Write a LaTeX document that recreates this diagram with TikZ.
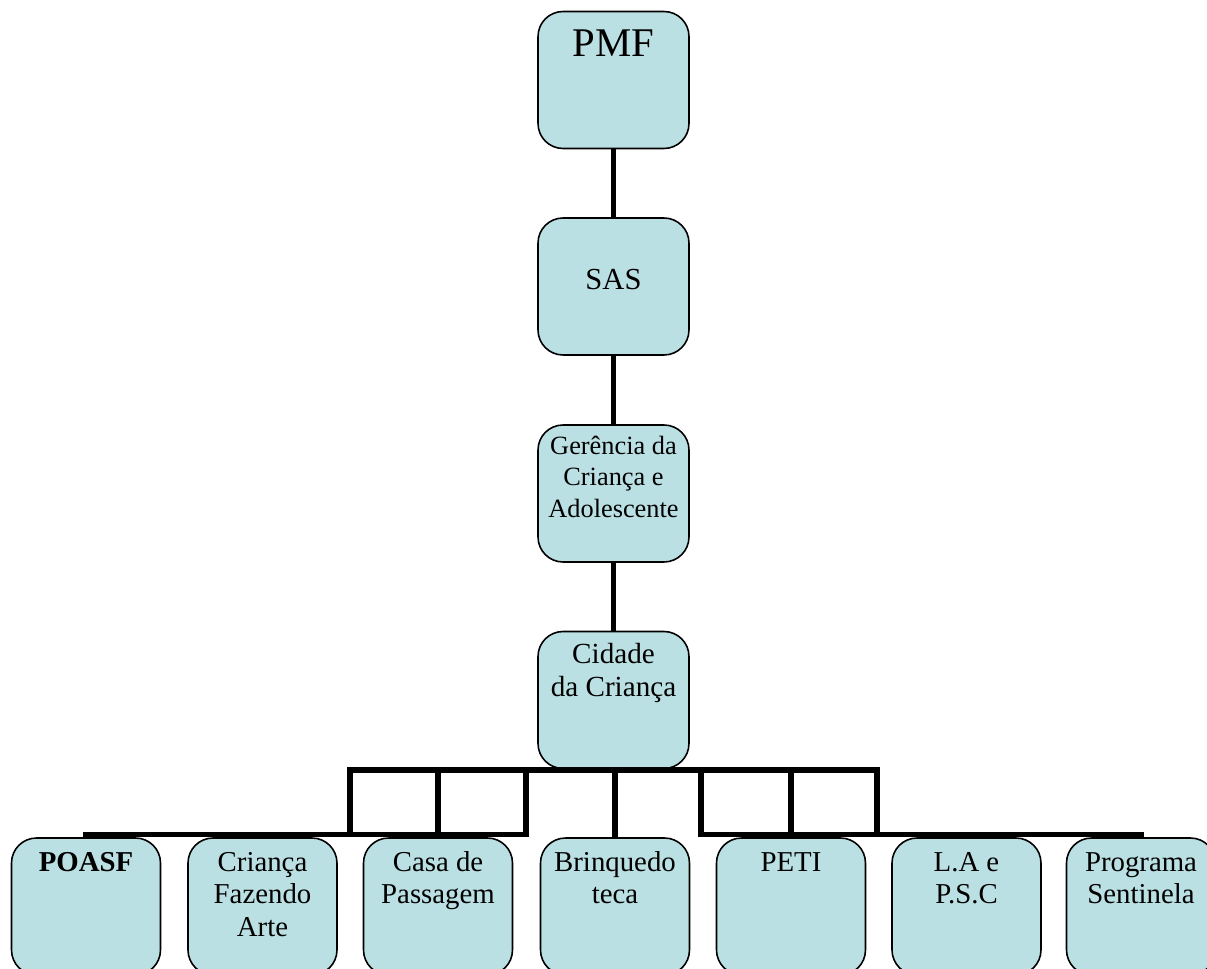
\documentclass[tikz,border=0pt]{standalone}
\usepackage{fontspec}
\setmainfont{Liberation Serif}
\definecolor{boxblue}{RGB}{187,224,227}
\tikzset{
  box/.style={draw, line width=0.9pt, fill=boxblue, rounded corners=0.5cm, minimum width=2.98cm, minimum height=2.74cm},
  boxtext/.style={anchor=base, align=flush center, text width=2.9cm, inner sep=0pt},
  wire/.style={line width=2.9pt},
  bar/.style={line width=2.9pt, line cap=rect},
}
\begin{document}
\begin{tikzpicture}[x=0.02cm, y=-0.02cm]
    \clip (0,0) rectangle (1207,969);
    % main chain
    \node[box, minimum width=3.02cm] (pmf) at (613.5,80) {};
    \node[box, minimum width=3.02cm] (sas) at (613.5,286.5) {};
    \node[box, minimum width=3.02cm] (ger) at (613.5,493.5) {};
    \node[box, minimum width=3.02cm] (cid) at (613.5,700) {};
    \node[boxtext, font=\fontsize{23.2}{27}\selectfont] (pmf-t) at ([yshift=-0.92cm]pmf.north) {PMF};
    \node[boxtext, font=\fontsize{17.4}{20.5}\selectfont] (sas-t) at ([yshift=-1.44cm]sas.north) {SAS};
    \node[boxtext, font=\fontsize{15}{18}\selectfont] (ger-t) at ([yshift=-0.6cm]ger.north) {Gerência da\\Criança e\\Adolescente};
    \node[boxtext, font=\fontsize{16.6}{18.7}\selectfont] (cid-t) at ([yshift=-0.66cm]cid.north) {Cidade\\da Criança};
    \draw[wire] (pmf) -- (sas);
    \draw[wire] (sas) -- (ger);
    \draw[wire] (ger) -- (cid);
    % programs
    \node[box] (poasf) at (86,906.5) {};
    \node[box] (crianca) at (262.5,906.5) {};
    \node[box] (casa) at (438,906.5) {};
    \node[box] (brinq) at (615,906.5) {};
    \node[box] (peti) at (791,906.5) {};
    \node[box] (lapsc) at (966.5,906.5) {};
    \node[box] (sent) at (1141,906.5) {};
    \tikzset{every node/.append style={font=\fontsize{16.4}{18.5}\selectfont}}
    \node[boxtext] (poasf-t) at ([yshift=-0.68cm]poasf.north) {\textbf{POASF}};
    \node[boxtext] (crianca-t) at ([yshift=-0.68cm]crianca.north) {Criança\\Fazendo\\Arte};
    \node[boxtext] (casa-t) at ([yshift=-0.68cm]casa.north) {Casa de\\Passagem};
    \node[boxtext] (brinq-t) at ([yshift=-0.68cm]brinq.north) {Brinquedo\\teca};
    \node[boxtext] (peti-t) at ([yshift=-0.68cm]peti.north) {PETI};
    \node[boxtext] (lapsc-t) at ([yshift=-0.68cm]lapsc.north) {L.A e\\P.S.C};
    \node[boxtext] (sent-t) at ([yshift=-0.68cm]sent.north) {Programa\\Sentinela};
    % bars
    \coordinate (l1) at (350,770);
    \coordinate (l3) at (526,770);
    \coordinate (r1) at (701,770);
    \coordinate (r3) at (877,770);
    \coordinate (bl) at ([yshift=0.06cm]poasf.north);
    \coordinate (br) at ([yshift=0.06cm]sent.north);
    \draw[bar] (l1) -- (r3);
    \draw[bar] (bl) -| (l1);
    \draw[bar] (l3) |- (bl);
    \draw[bar] (casa.north |- l1) -- (casa.north |- bl);
    \draw[bar] (brinq.north |- l1) -- (brinq.north |- bl);
    \draw[bar] (r1) |- (br);
    \draw[bar] (r3) |- (br);
    \draw[bar] (peti.north |- r1) -- (peti.north |- bl);
\end{tikzpicture}
\end{document}
